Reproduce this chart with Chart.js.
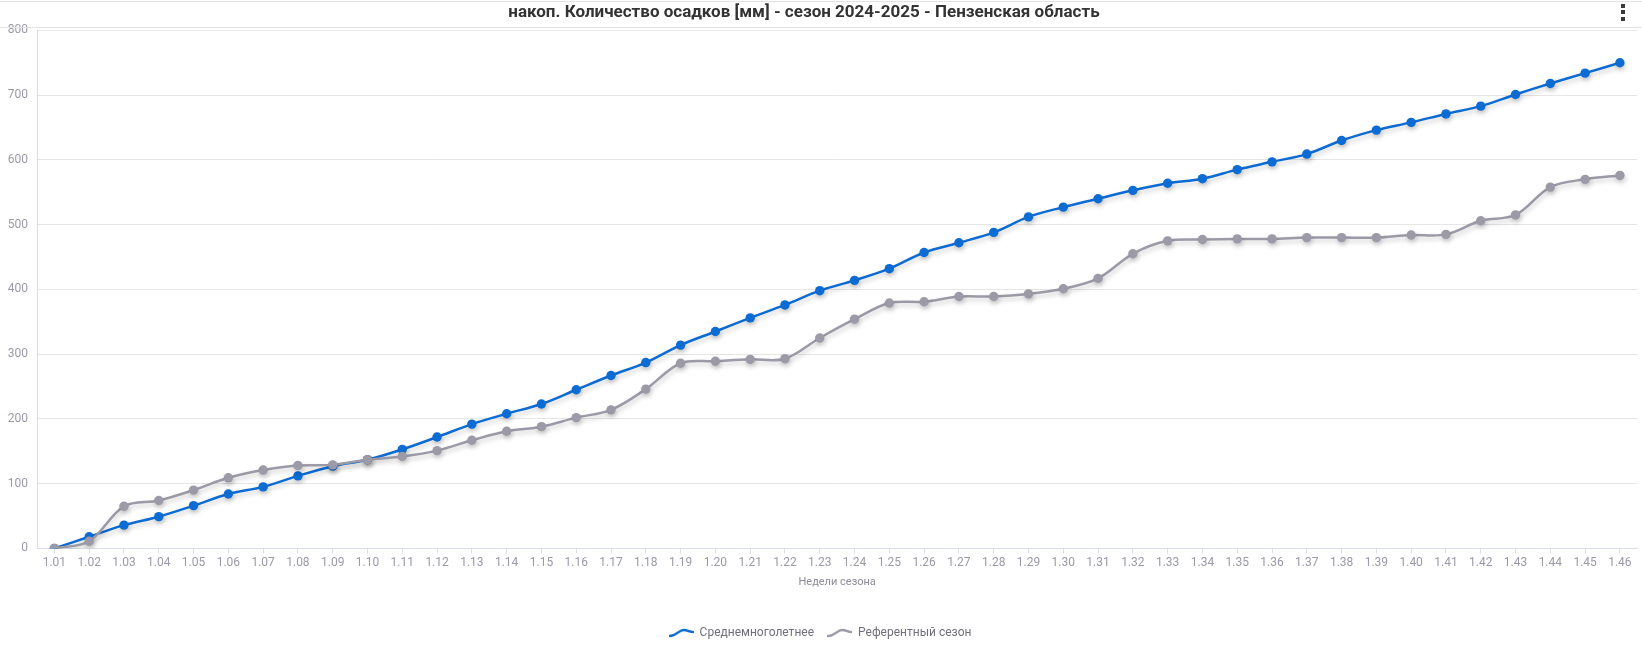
<!DOCTYPE html>
<html>
<head>
<meta charset="utf-8">
<script src="https://cdn.jsdelivr.net/npm/chart.js@4"></script>
<style>
    body { margin: 0; background: #fff; }
    #wrap { position: relative; width: 1642px; height: 659px; }
    #header { position: absolute; left: 0; top: 1px; width: 1642px; height: 25px;
              border-top: 1px solid #e3e3e3; border-bottom: 1px solid #e3e3e3; }
    .dot { position: absolute; left: 1621px; width: 4px; height: 4px; background: #3a3a3a; }
</style>
</head>
<body>
<div id="wrap">
    <div id="header"></div>
    <canvas id="precip" width="1642" height="659"></canvas>
    <div class="dot" style="top:4px"></div>
    <div class="dot" style="top:10px"></div>
    <div class="dot" style="top:17px"></div>
</div>
<script>
var weeks = ["1.01", "1.02", "1.03", "1.04", "1.05", "1.06", "1.07", "1.08", "1.09", "1.10",
    "1.11", "1.12", "1.13", "1.14", "1.15", "1.16", "1.17", "1.18", "1.19", "1.20",
    "1.21", "1.22", "1.23", "1.24", "1.25", "1.26", "1.27", "1.28", "1.29", "1.30",
    "1.31", "1.32", "1.33", "1.34", "1.35", "1.36", "1.37", "1.38", "1.39", "1.40",
    "1.41", "1.42", "1.43", "1.44", "1.45", "1.46"];

// Среднемноголетнее, накопительно, мм
var longTermMean = [0, 18, 36, 49, 66, 84, 95, 112, 127, 137,
    153, 172, 192, 208, 223, 245, 267, 287, 314, 335,
    356, 376, 398, 414, 432, 457, 472, 488, 512, 527,
    540, 553, 564, 571, 585, 597, 609, 630, 646, 658,
    671, 683, 701, 718, 734, 750];

// Референтный сезон, накопительно, мм
var refSeason = [0, 11, 65, 74, 90, 109, 121, 128, 129, 137,
    142, 151, 167, 181, 188, 202, 214, 246, 286, 289,
    292, 293, 325, 354, 379, 381, 389, 389, 393, 401,
    417, 455, 475, 477, 478, 478, 480, 480, 480, 484,
    485, 506, 515, 558, 570, 576];

var yTicks = [0, 100, 200, 300, 400, 500, 600, 700, 800];

var BLUE = "#0d6bd4";
var GREY = "#9b9aa6";
var FONT = "Roboto, 'Noto Sans', sans-serif";

// small wave icon for the legend
function waveIcon(color) {
    var c = document.createElement("canvas");
    c.width = 25;
    c.height = 10;
    var g = c.getContext("2d");
    g.strokeStyle = color;
    g.lineWidth = 2.5;
    g.lineCap = "round";
    g.beginPath();
    g.moveTo(1, 8);
    g.bezierCurveTo(8, 8, 10, 2, 15, 2);
    g.bezierCurveTo(19, 2, 21, 4, 24, 4);
    g.stroke();
    return c;
}

var lineShadow = {
    id: "lineShadow",
    beforeDatasetDraw: function (chart) {
        var ctx = chart.ctx;
        ctx.save();
        ctx.shadowColor = "rgba(0,0,0,0.2)";
        ctx.shadowOffsetX = 1;
        ctx.shadowOffsetY = 3;
        ctx.shadowBlur = 5;
    },
    afterDatasetDraw: function (chart) {
        chart.ctx.restore();
    }
};

// the title sits a bit left of the centre (room for the menu button)
var titleShift = {
    id: "titleShift",
    afterLayout: function (chart) {
        chart.titleBlock.right = chart.width - 34;
    }
};

new Chart(document.getElementById("precip"), {
    type: "line",
    data: {
        labels: weeks,
        datasets: [
            {
                label: "Среднемноголетнее",
                data: longTermMean,
                borderColor: BLUE,
                backgroundColor: BLUE,
                borderWidth: 2.5,
                pointRadius: 4.7,
                pointBorderWidth: 0,
                tension: 0.35,
                order: 2
            },
            {
                label: "Референтный сезон",
                data: refSeason,
                borderColor: GREY,
                backgroundColor: GREY,
                borderWidth: 2.5,
                pointRadius: 4.7,
                pointBorderWidth: 0,
                tension: 0.35,
                order: 1
            }
        ]
    },
    plugins: [lineShadow, titleShift],
    options: {
        responsive: false,
        animation: false,
        layout: { padding: { left: 0, right: 2, top: 0, bottom: 10 } },
        plugins: {
            title: {
                display: true,
                text: "накоп. Количество осадков [мм] - сезон 2024-2025 - Пензенская область",
                color: "#333333",
                font: { family: FONT, size: 17, weight: "bold" },
                padding: { top: 3, bottom: 7 }
            },
            legend: {
                position: "bottom",
                labels: {
                    color: "#6f6f7b",
                    font: { family: FONT, size: 12 },
                    usePointStyle: true,
                    pointStyleWidth: 25,
                    padding: 13,
                    sort: function (a, b) { return a.datasetIndex - b.datasetIndex; },
                    generateLabels: function (chart) {
                        return chart.data.datasets.map(function (ds, i) {
                            return {
                                text: ds.label,
                                datasetIndex: i,
                                pointStyle: waveIcon(ds.borderColor),
                                fontColor: "#6f6f7b",
                                lineWidth: 0,
                                hidden: false
                            };
                        });
                    }
                }
            },
            tooltip: { enabled: false }
        },
        scales: {
            x: {
                offset: true,
                grid: {
                    offset: false,
                    drawOnChartArea: false,
                    drawTicks: true,
                    tickLength: 5,
                    color: "#d8dde6"
                },
                border: { color: "#d8dde6" },
                ticks: {
                    color: "#9a9aa8",
                    font: { family: FONT, size: 12 },
                    autoSkip: false,
                    maxRotation: 0,
                    padding: 2
                },
                title: {
                    display: true,
                    text: "Недели сезона",
                    color: "#8c8c99",
                    font: { family: FONT, size: 11 },
                    padding: { top: 4, bottom: 25 }
                }
            },
            y: {
                min: 0,
                max: 800,
                afterBuildTicks: function (scale) {
                    scale.ticks = yTicks.map(function (v) { return { value: v }; });
                },
                afterFit: function (scale) { scale.width = 37; },
                grid: { color: "#e6e6e6", drawTicks: false },
                border: { color: "#d8dde6" },
                ticks: {
                    color: "#9a9aa8",
                    font: { family: FONT, size: 12 },
                    padding: 9
                }
            }
        }
    }
});
</script>
</body>
</html>
